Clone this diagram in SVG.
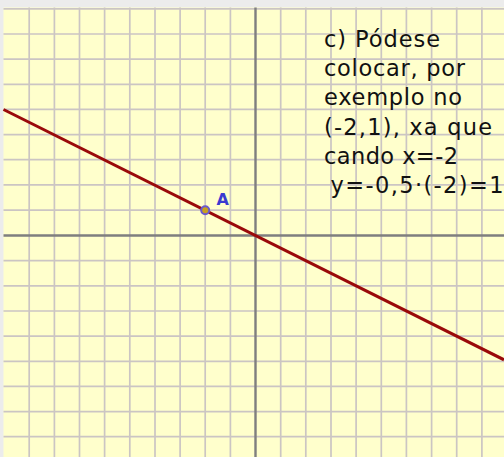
<svg xmlns="http://www.w3.org/2000/svg" width="504" height="457" viewBox="0 0 504 457">
<style>
.grid{stroke:#cbc5c3;stroke-width:1.7;fill:none}
.axis{stroke:#7f7f7f;stroke-width:2.4;fill:none}
.note{font-family:"DejaVu Sans","Liberation Sans",sans-serif;font-size:22.5px;fill:#111}
</style>
<rect x="0" y="0" width="504" height="457" fill="#ececec"/>
<rect x="3.5" y="7.5" width="500.5" height="449.5" fill="#ffffcc"/>
<g id="grid" class="grid">
<path d="M29.2 7.5V457M54.4 7.5V457M79.5 7.5V457M104.6 7.5V457M129.8 7.5V457M155 7.5V457M180.1 7.5V457M205.2 7.5V457M230.4 7.5V457M280.7 7.5V457M305.8 7.5V457M331 7.5V457M356.1 7.5V457M381.3 7.5V457M406.4 7.5V457M431.6 7.5V457M456.7 7.5V457M481.9 7.5V457"/>
<path d="M3.5 8.8H504M3.5 34H504M3.5 59.1H504M3.5 84.3H504M3.5 109.4H504M3.5 134.6H504M3.5 159.7H504M3.5 184.9H504M3.5 210.1H504M3.5 260.7H504M3.5 285.8H504M3.5 311H504M3.5 336.1H504M3.5 361.3H504M3.5 386.4H504M3.5 411.6H504M3.5 436.7H504"/>
</g>
<g id="axes" class="axis">
<path d="M255.5 7.5V457M3.5 235.5H504"/>
</g>
<g id="line">
<path d="M3.5 109.5L504 359.8" stroke="#9a0a0a" stroke-width="3" fill="none"/>
</g>
<g id="pointA">
<circle cx="205.2" cy="210.3" r="4" fill="#c8a020" stroke="#6a5acd" stroke-width="2"/>
<text x="216.5" y="205" font-family="DejaVu Sans, Liberation Sans, sans-serif" font-size="16" font-weight="bold" fill="#3a3ad0">A</text>
</g>
<g id="note" class="note">
<text x="324" y="47" textLength="116" lengthAdjust="spacing">c) Pódese</text>
<text x="324" y="76" textLength="141" lengthAdjust="spacing">colocar, por</text>
<text x="324" y="105" textLength="138" lengthAdjust="spacing">exemplo no</text>
<text x="324" y="134.5" textLength="168" lengthAdjust="spacing">(-2,1), xa que</text>
<text x="324" y="164" textLength="134" lengthAdjust="spacing">cando x=-2</text>
<text x="330.5" y="193" textLength="173" lengthAdjust="spacing">y=-0,5·(-2)=1</text>
</g>
</svg>
